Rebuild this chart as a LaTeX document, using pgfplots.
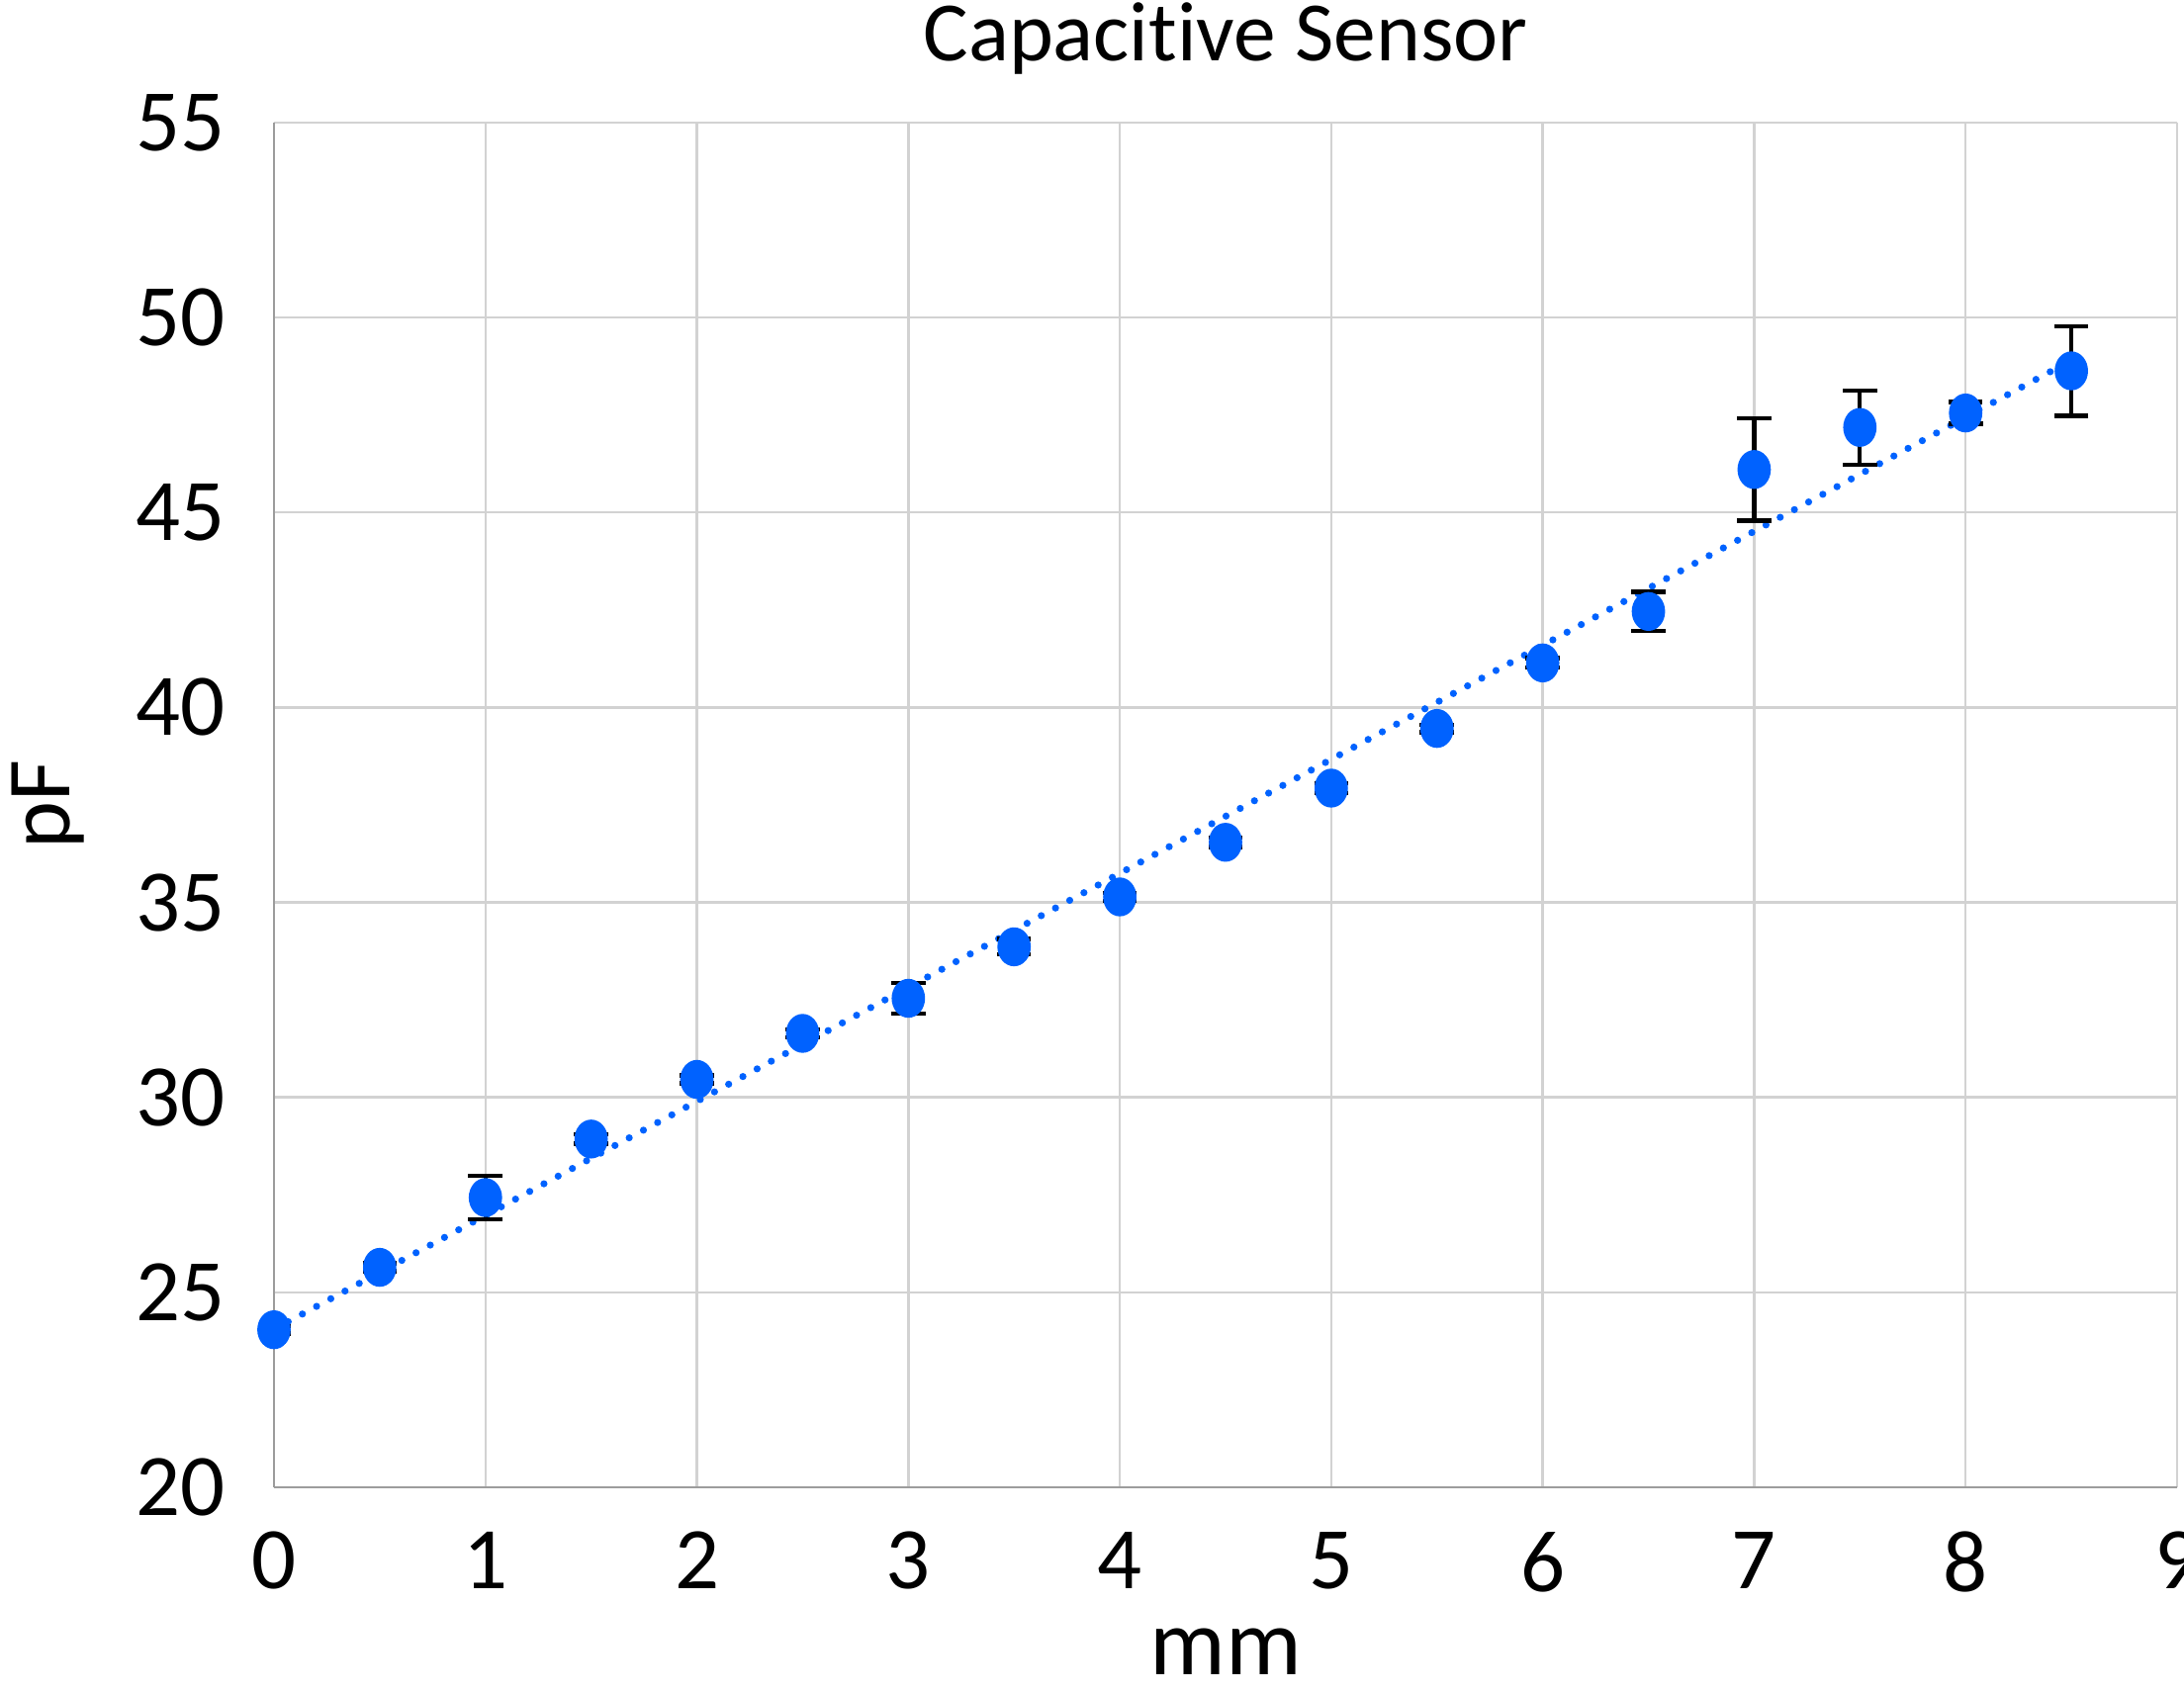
\documentclass[border=0pt]{standalone}
\usepackage{fontspec}
\setmainfont{Carlito}[Ligatures={NoCommon}]
\usepackage{pgfplots}
\usepackage{pgfplotstable}
\pgfplotsset{compat=1.18}

\definecolor{ptblue}{HTML}{0062FF}
\definecolor{gridgray}{HTML}{D2D2D2}
\definecolor{axgray}{HTML}{9C9C9C}

% distance [mm], capacitance [pF], error
\pgfplotstableread{
x    y      e
0.0  24.04  0.10
0.5  25.64  0.10
1.0  27.43  0.55
1.5  28.93  0.12
2.0  30.46  0.10
2.5  31.64  0.10
3.0  32.54  0.40
3.5  33.86  0.20
4.0  35.14  0.10
4.5  36.54  0.12
5.0  37.93  0.12
5.5  39.46  0.10
6.0  41.14  0.12
6.5  42.46  0.50
7.0  46.10  1.31
7.5  47.18  0.95
8.0  47.55  0.28
8.5  48.63  1.15
}\capdata

\begin{document}
\begin{tikzpicture}
\begin{axis}[
    width=400.8pt, height=287.5pt, scale only axis,
    xmin=0, xmax=9, ymin=20, ymax=55,
    xtick={0,1,...,9},
    ytick={20,25,...,55},
    grid=major,
    major grid style={gridgray, line width=0.5pt},
    axis x line*=bottom, axis y line*=left,
    axis line style={axgray, line width=0.6pt, -},
    major tick length=0pt,
    /pgf/number format/assume math mode=true,
    ticklabel style={font=\fontsize{18.5pt}{20pt}\selectfont, inner sep=0pt},
    yticklabel style={anchor=east, xshift=-10.2pt},
    xticklabel style={anchor=north, yshift=-9.2pt},
    title={Capacitive Sensor},
    title style={font=\fontsize{17.8pt}{20pt}\selectfont, at={(axis description cs:0.5,1)}, anchor=base, inner sep=0pt, yshift=6.9pt},
    xlabel={mm},
    xlabel style={font=\fontsize{20pt}{22pt}\selectfont, at={(axis description cs:0.5,0)}, anchor=base, inner sep=0pt, yshift=-39.4pt},
    ylabel={pF},
    ylabel style={font=\fontsize{19pt}{22pt}\selectfont, at={(axis description cs:-0.099,0.5)}, anchor=south, inner sep=0pt},
]
% linear trendline (dotted)
\addplot[ptblue, line width=1.5pt, line cap=round, dash pattern=on 0pt off 3.4pt]
    coordinates {(0,24.05) (8.5,48.9)};
% error bars
\addplot[draw=none, mark=none, forget plot,
    error bars/.cd, y dir=both, y explicit,
    error bar style={draw=black, line width=0.9pt},
    error mark options={rotate=90, mark size=3.6pt, draw=black, line width=0.9pt}]
    table[x=x, y=y, y error=e] {\capdata};
% measured points
\addplot[only marks, mark=*, mark size=3.9pt,
    mark options={xscale=0.85, draw=ptblue, fill=ptblue}]
    table[x=x, y=y] {\capdata};
\coordinate (bl) at (rel axis cs:0,0);
\coordinate (tr) at (rel axis cs:1,1);
\end{axis}
\pgfresetboundingbox
\path ([xshift=-57.7pt, yshift=-43.1pt]bl) rectangle ([xshift=1.46pt, yshift=25.8pt]tr);
\end{tikzpicture}
\end{document}
